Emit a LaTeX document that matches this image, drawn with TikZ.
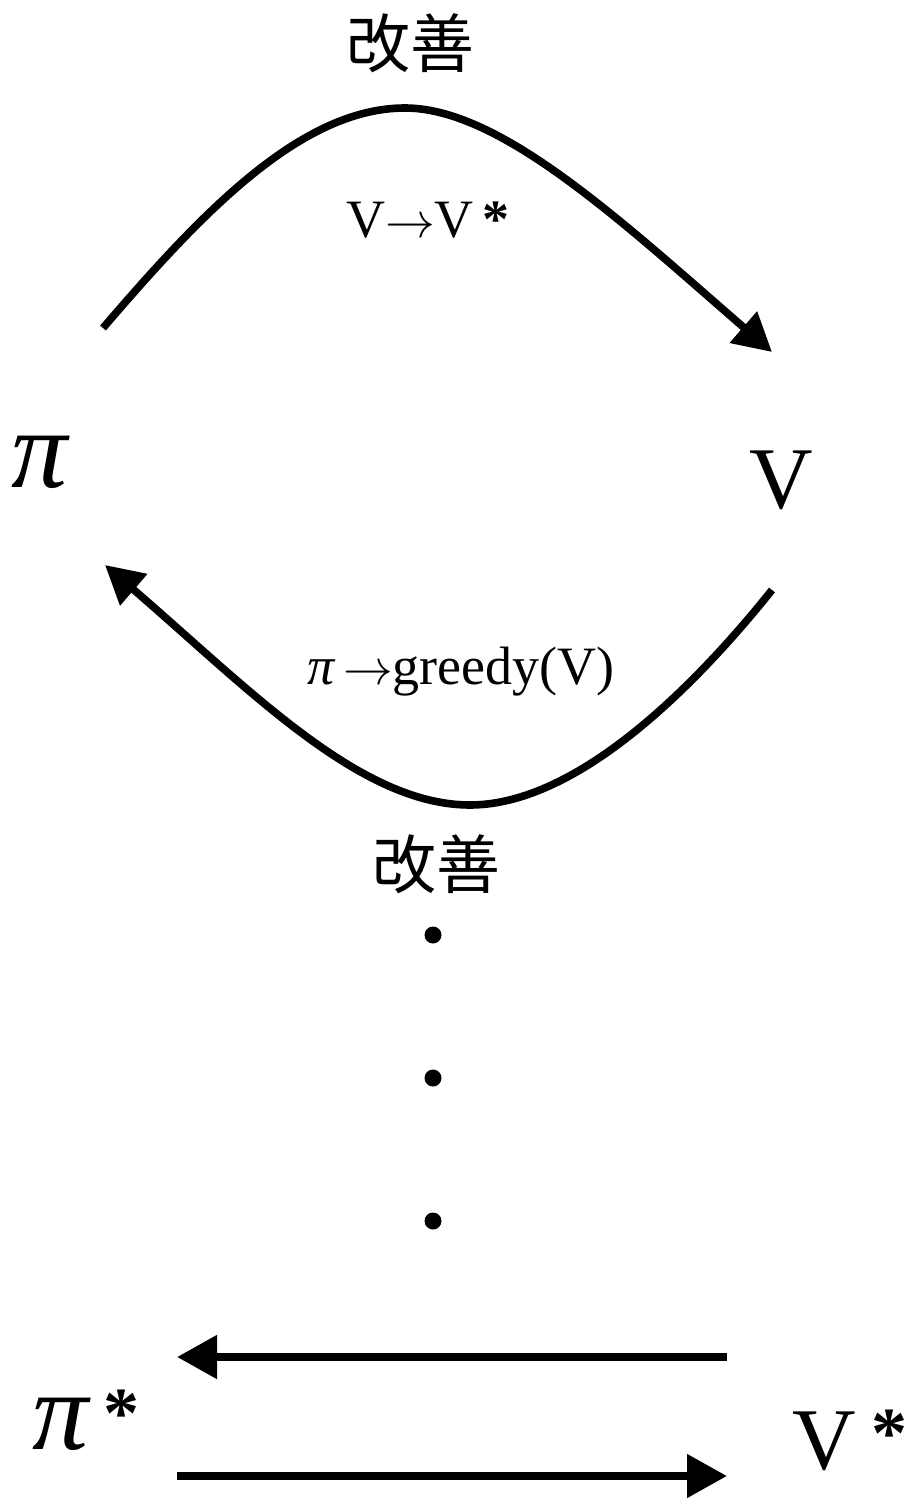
\documentclass[tikz,border=0pt]{standalone}
\usepackage{fontspec}
\setmainfont{Liberation Serif}
\newfontfamily\jpfont{Noto Sans CJK JP}
\usetikzlibrary{arrows.meta}

\begin{document}
\begin{tikzpicture}[
    x=0.5pt, y=-0.5pt,
    % ---- labels ----
    big/.style={font=\fontsize{44}{48}\selectfont, inner sep=0pt},
    jp/.style={font=\jpfont\fontsize{32}{36}\selectfont, inner sep=0pt},
    small/.style={font=\fontsize{27}{30}\selectfont, inner sep=0pt},
    % ---- connectors ----
    curve/.style={line width=3.8pt, -{Triangle[length=19pt,width=20pt]}},
    straight/.style={line width=4pt, -{Triangle[length=20pt,width=21pt]}},
    dot/.style={circle, fill=black, minimum size=8.5pt, inner sep=0pt}
]
\useasboundingbox (0,0) rectangle (909,1498);

% ---- star and pi macros ----
\newcommand{\bigpi}{{\fontsize{56}{60}\selectfont\itshape π}}
\newcommand{\bigstar}{\raisebox{6pt}{\fontsize{36}{40}\selectfont\bfseries *}}

% ---------- top loop ----------
\node[jp] (upTop) at (410,43) {改善};
\node[small] (upVal) at (428,220) {V$\rightarrow$V\,{\bfseries *}};
\node[big] (Pi) at (40,462) {\bigpi};
\node[big] (V) at (781,480) {V};
\node[small] (upPol) at (461,672) {{\itshape π}\,$\rightarrow$greedy(V)};
\node[jp] (upBot) at (436,864) {改善};

\coordinate (piOut) at (103,328);
\coordinate (vIn) at (772,352);
\coordinate (vOut) at (772,590);
\coordinate (piIn) at (105,565);

% evaluation: pi -- V
\draw[curve] (piOut) .. controls (200,215) and (300,108) .. (405,108)
    .. controls (500,108) and (620,220) .. (vIn);

% improvement: V -- pi
\draw[curve] (vOut) .. controls (700,680) and (580,805) .. (470,805)
    .. controls (360,805) and (250,690) .. (piIn);

% ---------- dots ----------
\node[dot] (d1) at (433,935) {};
\node[dot] (d2) at (433,1078) {};
\node[dot] (d3) at (433,1221) {};

% ---------- optimum ----------
\node[big] (PiStar) at (86,1420) {\bigpi\,\bigstar};
\node[big] (VStar) at (850,1440) {V\,\bigstar};

\coordinate (vsOut) at (727,1357);
\coordinate (psIn) at (177,1357);
\coordinate (psOut) at (177,1476);
\coordinate (vsIn) at (727,1476);

\draw[straight] (vsOut) -- (psIn);
\draw[straight] (psOut) -- (vsIn);

\end{tikzpicture}
\end{document}
